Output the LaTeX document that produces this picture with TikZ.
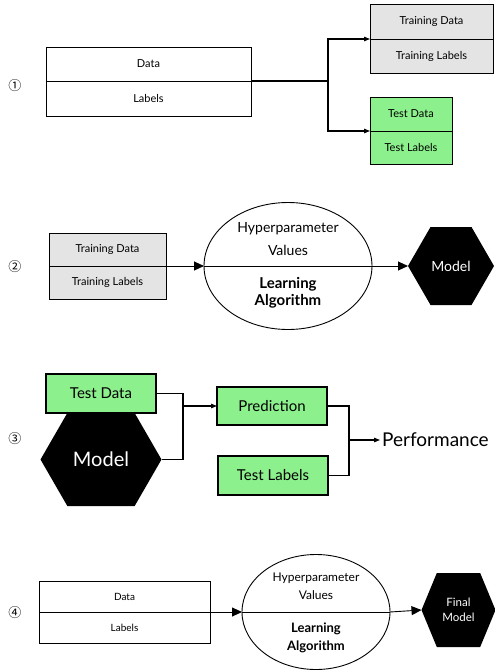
\documentclass[tikz,border=0pt]{standalone}
\usepackage{fontspec}
\setmainfont{Lato}
\newfontfamily\circfont{Noto Sans CJK SC}
\usetikzlibrary{shapes.geometric,shapes.symbols,arrows.meta,positioning}
\definecolor{traingray}{RGB}{228,228,228}
\definecolor{testgreen}{RGB}{140,240,140}

\begin{document}
\begin{tikzpicture}[
    x=1pt, y=-1pt,
    cell/.style={rectangle, draw, fill=#1, line width=0.9pt, outer sep=0pt, inner sep=1pt, font=\fontsize{11}{12}\selectfont},
    cell/.default=white,
    hexa/.style={signal, signal to=west and east, signal pointer angle=#1, fill=black, text=white, outer sep=0pt, inner sep=0pt, align=center},
    hexa/.default=120,
    algo/.style={ellipse, draw, line width=0.9pt, outer sep=0pt, inner sep=0pt},
    hyp/.style={inner sep=0pt, align=center},
    learn/.style={inner sep=0pt, align=center},
    num/.style={font=\circfont\fontsize{13}{13}\selectfont},
    bigarrow/.style={-{Triangle[length=10pt,width=9pt]}, line width=0.9pt},
    smallarrow/.style={-{Triangle[length=6pt,width=4.5pt]}, line width=1.1pt}
]
\useasboundingbox (0,0) rectangle (495,672);

% Step 1: split into training and test sets
\node[num] (n1) at (15,86) {①};
\node[cell, minimum width=205pt, minimum height=34pt] (data1) at (148.5,64) {Data};
\node[cell, minimum width=205pt, minimum height=35pt, below=0pt of data1] (lab1) {Labels};
\node[cell=traingray, minimum width=123pt, minimum height=35pt] (train1) at (431.5,21.5) {Training Data};
\node[cell=traingray, minimum width=123pt, minimum height=34pt, below=0pt of train1] (trlab1) {Training Labels};
\node[cell=testgreen, minimum width=82pt, minimum height=34pt] (test1) at (411,114) {Test Data};
\node[cell=testgreen, minimum width=82pt, minimum height=33pt, below=0pt of test1] (tslab1) {Test Labels};
\coordinate (split1) at (328,81);
\draw[line width=1.1pt] (data1.south east) -- (split1);
\draw[smallarrow] (split1) |- (train1.south west);
\draw[smallarrow] (split1) |- (test1.south west);

% Step 2: training
\node[num] (n2) at (15,267) {②};
\node[cell=traingray, minimum width=117pt, minimum height=33pt] (train2) at (107.5,249.5) {Training Data};
\node[cell=traingray, minimum width=117pt, minimum height=33pt, below=0pt of train2] (trlab2) {Training Labels};
\node[algo, minimum width=168pt, minimum height=127pt] (algo2) at (288,266) {};
\node[hyp, font=\fontsize{14}{23}\selectfont, above=10pt of algo2.center] (hyp2) {Hyperparameter\\Values};
\node[learn, font=\bfseries\fontsize{15}{17}\selectfont, below=11pt of algo2.center] (learn2) {Learning\\Algorithm};
\node[hexa, minimum width=86pt, minimum height=78pt, font=\fontsize{14}{14}\selectfont] (model2) at (451,266) {Model};
\draw[bigarrow] (trlab2.north east) -- (algo2.west);
\draw[line width=0.9pt] (algo2.west) -- (algo2.east);
\draw[bigarrow] (algo2.east) -- (model2.west);

% Step 3: evaluation
\node[num] (n3) at (15,439) {③};
\node[cell=testgreen, line width=1.3pt, minimum width=110pt, minimum height=39pt, font=\fontsize{15}{15}\selectfont] (td3) at (101,393.5) {Test Data};
\node[hexa, minimum width=121pt, minimum height=93pt, font=\fontsize{20}{20}\selectfont, below=0pt of td3] (model3) {Model};
\node[cell=testgreen, line width=1.3pt, minimum width=110pt, minimum height=38pt, font=\fontsize{15}{15}\selectfont] (pred3) at (272,406) {Prediction};
\node[cell=testgreen, line width=1.3pt, minimum width=110pt, minimum height=39pt, font=\fontsize{15}{15}\selectfont] (tl3) at (273,475.5) {Test Labels};
\node[anchor=west, inner sep=2pt, font=\fontsize{19}{19}\selectfont] (perf3) at (380,440) {Performance};
\coordinate (mid3) at (183,406);
\coordinate (join3) at (349,440);
\draw[line width=1.3pt] (td3.east) -| (mid3) |- (model3.east);
\draw[smallarrow] (mid3) -- (pred3.west);
\draw[line width=1.3pt] (pred3.east) -| (join3) |- (tl3.east);
\draw[smallarrow] (join3) -- (perf3.west);

% Step 4: final model on all data
\node[num] (n4) at (15,613) {④};
\node[cell, minimum width=171pt, minimum height=31pt, font=\fontsize{10}{11}\selectfont] (data4) at (124.5,596.5) {Data};
\node[cell, minimum width=171pt, minimum height=31pt, font=\fontsize{10}{11}\selectfont, below=0pt of data4] (lab4) {Labels};
\node[algo, minimum width=148pt, minimum height=115pt] (algo4) at (316,612) {};
\node[hyp, font=\fontsize{12}{18}\selectfont, above=12pt of algo4.center] (hyp4) {Hyperparameter\\Values};
\node[learn, font=\bfseries\fontsize{13}{18}\selectfont, below=11pt of algo4.center] (learn4) {Learning\\Algorithm};
\node[hexa=135, minimum width=74pt, minimum height=74pt, font=\fontsize{11.5}{15}\selectfont] (final4) at (458.5,610) {Final\\Model};
\draw[bigarrow] (lab4.north east) -- (algo4.west);
\draw[line width=0.9pt] (algo4.west) -- (algo4.east);
\draw[bigarrow] (algo4.east) -- (final4.west);

\end{tikzpicture}
\end{document}
